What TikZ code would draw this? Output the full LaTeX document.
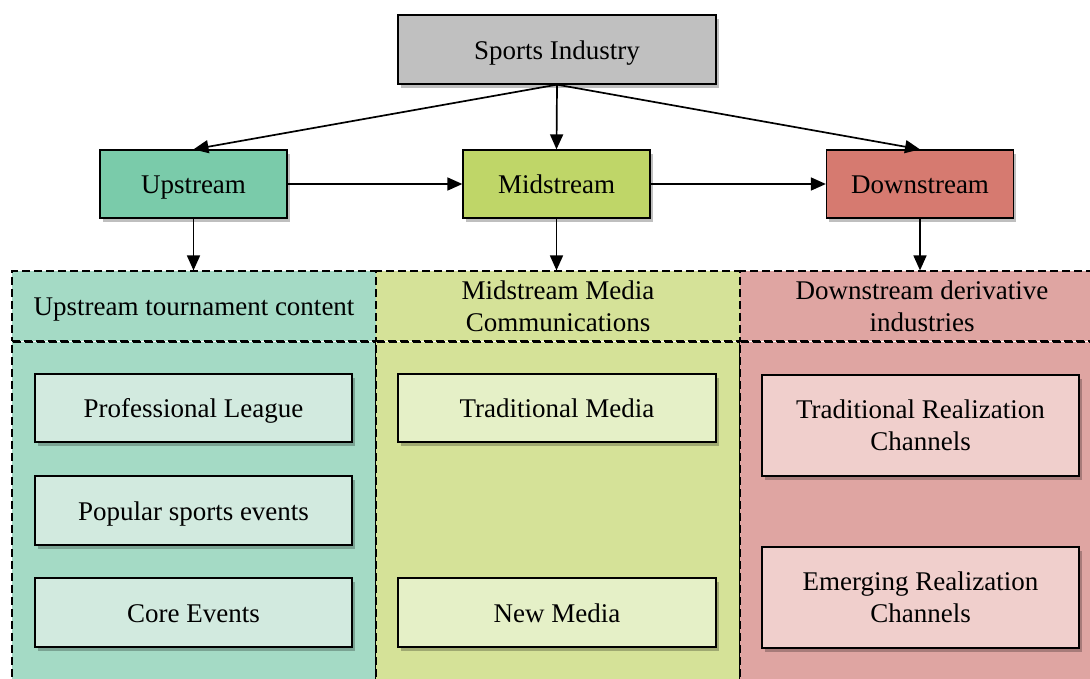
\documentclass[tikz,border=0pt]{standalone}
\usepackage{fontspec}
\setmainfont{Liberation Serif}
\usetikzlibrary{arrows.meta,shadows}

\definecolor{topgray}{RGB}{192,192,192}
\definecolor{upfill}{RGB}{122,203,170}
\definecolor{midfill}{RGB}{191,214,104}
\definecolor{downfill}{RGB}{214,122,112}
\definecolor{upcol}{RGB}{164,218,197}
\definecolor{midcol}{RGB}{213,226,152}
\definecolor{downcol}{RGB}{223,165,162}
\definecolor{upin}{RGB}{210,234,223}
\definecolor{midin}{RGB}{229,240,199}
\definecolor{downin}{RGB}{240,207,204}

\tikzset{
  shade box/.style={draw=black, line width=1.3pt, align=center, inner sep=0pt,
    font=\fontsize{27}{32}\selectfont,
    drop shadow={shadow xshift=2.5pt, shadow yshift=-3.5pt, opacity=0.25, fill=black}},
  colpart/.style={draw=black, dashed, dash pattern=on 8pt off 4pt, line width=1.2pt,
    inner sep=0pt, align=center, font=\fontsize{27}{32}\selectfont},
  oneline/.style={text height=19pt, text depth=0pt},
  arr/.style={line width=1.7pt, -{Triangle[length=15pt,width=13pt]}},
}

\begin{document}
\begin{tikzpicture}[x=1pt,y=-1pt]
\useasboundingbox (0,0) rectangle (1090,678);
\clip (0,0) rectangle (1090,678);

% column bodies and headers
\node[colpart, fill=upcol, minimum width=364pt, minimum height=349pt] (upbody) at (194,516.5) {};
\node[colpart, fill=midcol, minimum width=364pt, minimum height=349pt] (midbody) at (558,516.5) {};
\node[colpart, fill=downcol, minimum width=364pt, minimum height=349pt] (downbody) at (922,516.5) {};
\node[colpart, oneline, fill=upcol, minimum width=364pt, minimum height=70pt] (uphead) at (194,306) {Upstream tournament content};
\node[colpart, fill=midcol, minimum width=364pt, minimum height=70pt] (midhead) at (558,306) {Midstream Media\\Communications};
\node[colpart, fill=downcol, minimum width=364pt, minimum height=70pt] (downhead) at (922,306) {Downstream derivative\\industries};

% top level and stream boxes
\node[shade box, oneline, fill=topgray, minimum width=318pt, minimum height=69pt] (top) at (557,49.5) {Sports Industry};
\node[shade box, oneline, fill=upfill, minimum width=187pt, minimum height=68pt] (up) at (193.5,184) {Upstream};
\node[shade box, oneline, fill=midfill, minimum width=187pt, minimum height=68pt] (mid) at (556.5,184) {Midstream};
\node[shade box, oneline, fill=downfill, minimum width=187pt, minimum height=68pt] (down) at (920,184) {Downstream};

% inner boxes
\node[shade box, oneline, fill=upin, minimum width=317pt, minimum height=68pt] (pro) at (193.5,408) {Professional League};
\node[shade box, oneline, fill=upin, minimum width=317pt, minimum height=69pt] (pop) at (193.5,510.5) {Popular sports events};
\node[shade box, oneline, fill=upin, minimum width=317pt, minimum height=69pt] (core) at (193.5,612.5) {Core Events};
\node[shade box, oneline, fill=midin, minimum width=318pt, minimum height=68pt] (trad) at (557,408) {Traditional Media};
\node[shade box, oneline, fill=midin, minimum width=318pt, minimum height=69pt] (new) at (557,612.5) {New Media};
\node[shade box, fill=downin, minimum width=317pt, minimum height=101pt] (tradch) at (920.5,425.5) {Traditional Realization\\Channels};
\node[shade box, fill=downin, minimum width=317pt, minimum height=101pt] (emch) at (920.5,597.5) {Emerging Realization\\Channels};

% connectors
\draw[arr] (top.south) -- (up.north);
\draw[arr] (top.south) -- (mid.north);
\draw[arr] (top.south) -- (down.north);
\draw[arr] (up.east) -- (mid.west);
\draw[arr] (mid.east) -- (down.west);
\draw[arr] (up.south) -- (up.south |- uphead.north);
\draw[arr] (mid.south) -- (mid.south |- midhead.north);
\draw[arr] (down.south) -- (down.south |- downhead.north);
\end{tikzpicture}
\end{document}
